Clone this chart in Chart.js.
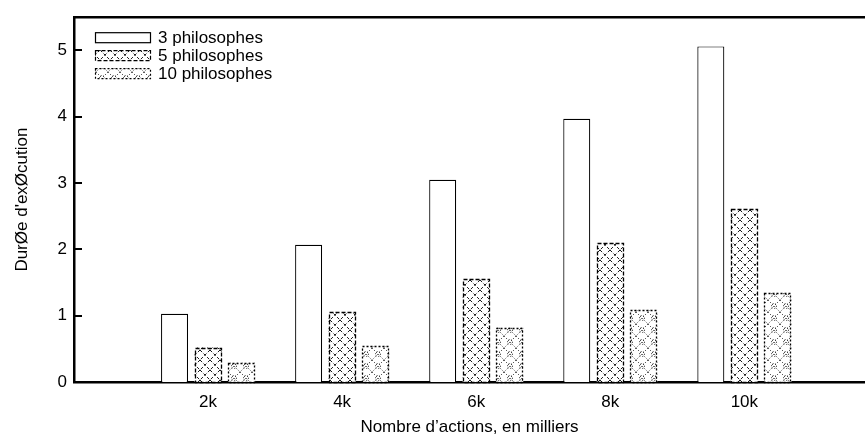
<!DOCTYPE html>
<html>
<head>
<meta charset="utf-8">
<script src="https://cdn.jsdelivr.net/npm/chart.js@4"></script>
<style>
  html, body { margin: 0; padding: 0; background: #fff; }
  #wrap { width: 865px; height: 438px; }
</style>
</head>
<body>
<div id="wrap"><canvas id="chart"></canvas></div>
<script>
// Nombre d'actions (en milliers) and execution time per number of philosophers
const categories = [2, 4, 6, 8, 10];
const tickLabels = ['2k', '4k', '6k', '8k', '10k'];
const seriesLabels = ['3 philosophes', '5 philosophes', '10 philosophes'];
const phil3 = [1.03, 2.07, 3.05, 3.97, 5.06];
const phil5 = [0.52, 1.05, 1.55, 2.09, 2.61];
const phil10 = [0.29, 0.54, 0.82, 1.09, 1.34];

const FONT = '"Liberation Sans", Arial, Helvetica, sans-serif';

/**
 * Small repeating tile used as a bar fill
 */
function makePattern(size, draw) {
    const c = document.createElement('canvas');
    c.width = size;
    c.height = size;
    const g = c.getContext('2d');
    g.fillStyle = '#fff';
    g.fillRect(0, 0, size, size);
    g.strokeStyle = '#000';
    g.fillStyle = '#000';
    g.lineWidth = 0.9;
    draw(g, size);
    return g.createPattern(c, 'repeat');
}

// cross hatch (diamonds) for 5 philosophes
const hatch = makePattern(10, (g, s) => {
    g.setLineDash([3, 2]);
    g.beginPath();
    g.moveTo(0, 0); g.lineTo(s, s);
    g.moveTo(s, 0); g.lineTo(0, s);
    g.stroke();
});

// dotted rings for 10 philosophes
const dots = makePattern(12, (g, s) => {
    g.setLineDash([1, 2]);
    g.beginPath();
    g.moveTo(0, 0); g.lineTo(s, s);
    g.moveTo(s, 0); g.lineTo(0, s);
    g.stroke();
    g.setLineDash([1, 1.5]);
    g.beginPath();
    g.arc(s / 2, s / 2, 2.5, 0, Math.PI * 2);
    g.stroke();
});

const toPoints = values => categories.map((x, i) => ({ x: x, y: values[i] }));

const datasets = [
    { label: seriesLabels[0], data: toPoints(phil3), backgroundColor: '#fff',
      borderColor: '#000', borderWidth: 1.2, outlineDash: null },
    { label: seriesLabels[1], data: toPoints(phil5), backgroundColor: hatch,
      borderWidth: 0, outlineDash: [4, 2] },
    { label: seriesLabels[2], data: toPoints(phil10), backgroundColor: dots,
      borderWidth: 0, outlineDash: [2, 2] }
];

// dashed outlines, inward ticks, top frame line and in-plot legend
const decorations = {
    id: 'decorations',
    afterDatasetsDraw(chart) {
        const ctx = chart.ctx;
        const area = chart.chartArea;
        ctx.save();
        ctx.strokeStyle = '#000';

        chart.data.datasets.forEach((ds, i) => {
            if (!ds.outlineDash) return;
            ctx.setLineDash(ds.outlineDash);
            ctx.lineWidth = 1.3;
            chart.getDatasetMeta(i).data.forEach(bar => {
                const p = bar.getProps(['x', 'y', 'base', 'width'], true);
                ctx.strokeRect(Math.round(p.x - p.width / 2) + 0.5, Math.round(p.y) + 0.5,
                    Math.round(p.width) - 1, Math.round(p.base - p.y));
            });
        });
        ctx.setLineDash([]);

        // top frame line
        ctx.lineWidth = 2.5;
        ctx.beginPath();
        ctx.moveTo(area.left, area.top);
        ctx.lineTo(area.right, area.top);
        ctx.stroke();

        // inward y ticks
        const yScale = chart.scales.y;
        ctx.lineWidth = 2;
        yScale.ticks.forEach(t => {
            const py = Math.round(yScale.getPixelForValue(t.value));
            ctx.beginPath();
            ctx.moveTo(area.left, py);
            ctx.lineTo(area.left + 8, py);
            ctx.stroke();
        });

        // legend
        ctx.font = '17px ' + FONT;
        ctx.textBaseline = 'middle';
        ctx.fillStyle = '#000';
        chart.data.datasets.forEach((ds, i) => {
            const cy = area.top + 20 + i * 18;
            const x0 = area.left + 21;
            ctx.fillStyle = ds.backgroundColor;
            ctx.fillRect(x0, cy - 5, 55, 10);
            ctx.setLineDash(ds.outlineDash || []);
            ctx.lineWidth = 1.2;
            ctx.strokeRect(x0 + 0.5, cy - 5 + 0.5, 55, 10);
            ctx.setLineDash([]);
            ctx.fillStyle = '#000';
            ctx.fillText(ds.label, area.left + 84, cy + 1);
        });
        ctx.restore();
    }
};

new Chart(document.getElementById('chart'), {
    type: 'bar',
    data: { datasets: datasets },
    plugins: [decorations],
    options: {
        responsive: true,
        maintainAspectRatio: false,
        animation: false,
        categoryPercentage: 0.75,
        barPercentage: 0.806,
        layout: { padding: { top: 11, right: 0, left: 0, bottom: 0 } },
        plugins: {
            legend: { display: false },
            tooltip: { enabled: false }
        },
        scales: {
            x: {
                type: 'linear',
                offset: false,
                min: 0,
                max: 11.8,
                afterBuildTicks: scale => {
                    scale.ticks = categories.map(v => ({ value: v }));
                },
                afterFit: scale => { scale.height = 56; },
                ticks: {
                    includeBounds: false,
                    color: '#000',
                    padding: 10,
                    maxRotation: 0,
                    font: { family: FONT, size: 17 },
                    callback: value => tickLabels[categories.indexOf(value)] || ''
                },
                grid: { display: false, drawTicks: false, offset: false },
                border: { display: true, color: '#000', width: 2.5 },
                title: {
                    display: true,
                    text: 'Nombre d\u2019actions, en milliers',
                    color: '#000',
                    font: { family: FONT, size: 17 },
                    padding: { top: 0, bottom: 0 }
                }
            },
            y: {
                min: 0,
                max: 5.5,
                afterFit: scale => { scale.width = 74; },
                ticks: {
                    stepSize: 1,
                    includeBounds: false,
                    color: '#000',
                    padding: 7,
                    font: { family: FONT, size: 17 }
                },
                grid: { display: false, drawTicks: false },
                border: { display: true, color: '#000', width: 2.5 },
                title: {
                    display: true,
                    text: 'DurØe d\'exØcution',
                    color: '#000',
                    font: { family: FONT, size: 17 },
                    padding: { top: 12, bottom: 0 }
                }
            }
        }
    }
});
</script>
</body>
</html>
